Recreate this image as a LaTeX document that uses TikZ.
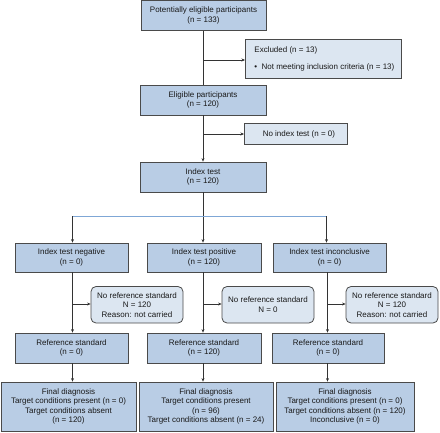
\documentclass[tikz,border=0pt]{standalone}
\usepackage{fontspec}
\setmainfont{Liberation Sans}
\usetikzlibrary{arrows.meta}
\definecolor{mainfill}{HTML}{B9CDE5}
\definecolor{sidefill}{HTML}{DCE6F1}
\definecolor{edge}{HTML}{4A4A4A}
\definecolor{blueline}{HTML}{7FA7D6}
\tikzset{
  basebox/.style={draw=edge, line width=0.8pt, inner sep=0pt, align=center,
    font=\fontsize{8}{9.4}\selectfont, text=black!90,
    execute at begin node={\rule{0pt}{8.6pt}}},
  mainbox/.style={basebox, fill=mainfill},
  sidebox/.style={basebox, fill=sidefill},
  roundbox/.style={basebox, fill=sidefill, rounded corners=5pt},
  arr/.style={draw=black!80, line width=0.6pt, -{Stealth[length=3.5pt,width=3pt]}},
  ln/.style={draw=black!80, line width=0.6pt},
}
\begin{document}
\begin{tikzpicture}[x=1pt,y=-1pt]
\useasboundingbox (0,0) rectangle (440,432);
% top column
\node[mainbox, minimum width=125pt, minimum height=30pt] (pot) at (203.5,15.5) {Potentially eligible participants\\(n = 133)};
\node[sidebox, minimum width=156pt, minimum height=39pt, align=left, anchor=west] (excl) at (245,58.5) {\hspace*{6pt}Excluded (n = 13)\\[7.6pt]\hspace*{6pt}\textbullet\ \ Not meeting inclusion criteria (n = 13)\hspace*{4pt}};
\node[mainbox, minimum width=126pt, minimum height=30pt] (elig) at (203,100) {Eligible participants\\(n = 120)};
\node[sidebox, minimum width=103pt, minimum height=21pt, align=left, anchor=west] (noidx) at (244,133.5) {\hspace*{6pt}No index test (n = 0)};
\node[mainbox, minimum width=126pt, minimum height=30pt] (idx) at (203,177) {Index test\\(n = 120)};
% third row
\node[mainbox, minimum width=113pt, minimum height=29pt] (neg) at (71.5,257.5) {Index test negative\\(n = 0)};
\node[mainbox, minimum width=114pt, minimum height=29pt] (pos) at (204,257.5) {Index test positive\\(n = 120)};
\node[mainbox, minimum width=113pt, minimum height=29pt] (inc) at (329.5,257.5) {Index test inconclusive\\(n = 0)};
% no reference standard
\node[roundbox, minimum width=92pt, minimum height=36.5pt] (nr1) at (137,304.75) {No reference standard\\N = 120\\Reason: not carried};
\node[roundbox, minimum width=92pt, minimum height=36.5pt] (nr2) at (268,304.75) {No reference standard\\N = 0};
\node[roundbox, minimum width=92pt, minimum height=36.5pt] (nr3) at (392,304.75) {No reference standard\\N = 120\\Reason: not carried};
% reference standard
\node[mainbox, minimum width=113pt, minimum height=30pt] (ref1) at (71.5,348) {Reference standard\\(n = 0)};
\node[mainbox, minimum width=114pt, minimum height=30pt] (ref2) at (204,348) {Reference standard\\(n = 120)};
\node[mainbox, minimum width=112pt, minimum height=30pt] (ref3) at (328,348) {Reference standard\\(n = 0)};
% final diagnosis
\node[mainbox, minimum width=135pt, minimum height=49pt] (fin1) at (68.5,406.5) {Final diagnosis\\Target conditions present (n = 0)\\Target conditions absent\\(n = 120)};
\node[mainbox, minimum width=134pt, minimum height=49pt] (fin2) at (206,406.5) {Final diagnosis\\Target conditions present\\(n = 96)\\Target conditions absent (n = 24)};
\node[mainbox, minimum width=138pt, minimum height=49pt] (fin3) at (345,406.5) {Final diagnosis\\Target conditions present (n = 0)\\Target conditions absent (n = 120)\\Inconclusive (n = 0)};
% coordinates
\coordinate (b1) at (203,60);
\coordinate (b2) at (203,134);
\coordinate (hl) at (72.5,216);
\coordinate (hr) at (326.5,216);
\coordinate (c1) at (72.5,304);
\coordinate (c2) at (203,304);
\coordinate (c3) at (327.5,304);
% connectors top
\draw[ln] (pot.south -| b1) -- (elig.north -| b1);
\draw[arr] (b1) -- (b1 -| excl.west);
\draw[arr] (elig.south -| b2) -- (idx.north -| b2);
\draw[arr] (b2) -- (b2 -| noidx.west);
% split
\draw[arr] (idx.south -| b1) -- (pos.north -| b1);
\draw[blueline, line width=0.6pt] (hl) -- (hr);
\draw[arr] (hl) -- (neg.north -| hl);
\draw[arr] (hr) -- (inc.north -| hr);
% columns
\draw[arr] (neg.south -| c1) -- (ref1.north -| c1);
\draw[arr] (c1) -- (nr1.west |- c1);
\draw[arr] (pos.south -| c2) -- (ref2.north -| c2);
\draw[arr] (c2) -- (nr2.west |- c2);
\draw[arr] (inc.south -| c3) -- (ref3.north -| c3);
\draw[arr] (c3) -- (nr3.west |- c3);
\draw[arr] (ref1.south -| c1) -- (fin1.north -| c1);
\draw[arr] (ref2.south -| c2) -- (fin2.north -| c2);
\draw[arr] (ref3.south -| c3) -- (fin3.north -| c3);
\end{tikzpicture}
\end{document}
